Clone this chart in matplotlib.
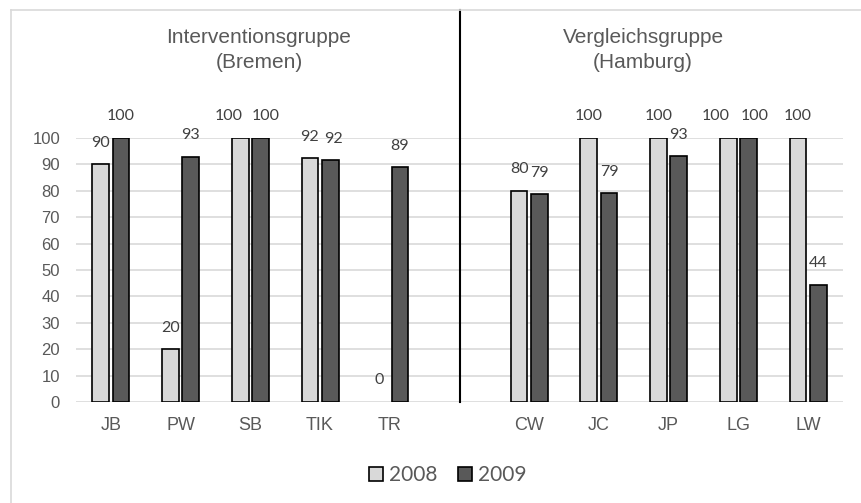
import matplotlib
matplotlib.use('Agg')

import numpy as np
import matplotlib.pyplot as plt
from matplotlib.patches import Patch
from matplotlib.lines import Line2D

# data (blank slot separates the two groups)
categories = ['JB', 'PW', 'SB', 'TIK', 'TR', '', 'CW', 'JC', 'JP', 'LG', 'LW']
values_2008 = [90, 20, 100, 92.3, 0, np.nan, 80, 100, 100, 100, 100]
values_2009 = [100, 92.9, 100, 91.6, 88.9, np.nan, 78.6, 79.0, 93.0, 100, 44.4]
series_names = ['2008', '2009']
group_titles = ['Interventionsgruppe\n(Bremen)', 'Vergleichsgruppe\n(Hamburg)']
yticks = list(range(0, 101, 10))

text_gray = '#595959'
grid_gray = '#D9D9D9'
colors = ['#D9D9D9', '#595959']

# horizontal nudges (pixels) for labels that Excel pushed apart
label_nudge = {(0, 2): -12, (1, 2): 5, (1, 3): 3, (0, 9): -13, (1, 9): 6}

W, H = 862, 503
fig = plt.figure(figsize=(W / 100, H / 100), dpi=100)

# axes placed in pixel terms
left, right, bottom, top = 76, 843, 402, 138
ax = fig.add_axes([left / W, 1 - bottom / H, (right - left) / W, (bottom - top) / H])

x = np.arange(len(categories))
bar_w = 0.24
offset = 0.145

for i, (vals, col) in enumerate(zip([values_2008, values_2009], colors)):
    xs = x + (i * 2 - 1) * offset
    lws = [0 if v == 0 else 1.2 for v in vals]
    ax.bar(xs, vals, width=bar_w, color=col, edgecolor='black', linewidth=lws, zorder=3)
    for j, (xi, v) in enumerate(zip(xs, vals)):
        if np.isnan(v):
            continue
        dx = label_nudge.get((i, j), 0) * 0.72
        ax.annotate(f'{v:.0f}', (xi, v), xytext=(dx, 15.5), textcoords='offset points',
                    ha='center', va='center', fontsize=11.5, color='#404040',
                    family='Lato', zorder=4)

ax.set_xlim(-0.5, len(categories) - 0.5)
ax.set_ylim(0, 100)
ax.set_yticks(yticks)
ax.set_xticks(x)
ax.set_xticklabels(categories, fontsize=13, color=text_gray, family='Liberation Sans')
for lab in ax.get_yticklabels():
    lab.set_fontsize(12)
    lab.set_color(text_gray)
    lab.set_family('Liberation Sans')
ax.tick_params(axis='both', length=0)
ax.tick_params(axis='x', pad=11)
ax.tick_params(axis='y', pad=11.5)
ax.yaxis.grid(True, color=grid_gray, linewidth=1.2, zorder=0)
ax.set_axisbelow(True)
for s in ax.spines.values():
    s.set_visible(False)

# separator between the two groups
ax.axvline(5, ymin=0, ymax=(bottom - 10) / (bottom - top), color='black',
           linewidth=1.5, clip_on=False, zorder=5)

# group titles
fig.text(259 / W, 1 - 50 / H, group_titles[0], ha='center', va='center',
         fontsize=15, color=text_gray, family='Liberation Sans', linespacing=1.45)
fig.text(643 / W, 1 - 50 / H, group_titles[1], ha='center', va='center',
         fontsize=15, color=text_gray, family='Liberation Sans', linespacing=1.45)

# outer chart border (left and top edges visible only)
fig.add_artist(Line2D([11 / W, 11 / W], [0, 1 - 10 / H], color=grid_gray, linewidth=1.2))
fig.add_artist(Line2D([11 / W, 1], [1 - 10 / H, 1 - 10 / H], color=grid_gray, linewidth=1.2))

handles = [Patch(facecolor=c, edgecolor='black', linewidth=1.2) for c in colors]
leg = fig.legend(handles, series_names, loc='center', bbox_to_anchor=(448 / W, 1 - 475 / H),
                 ncol=2, frameon=False, prop={'family': 'Lato', 'size': 15},
                 handlelength=0.65, handleheight=0.65, handletextpad=0.3, columnspacing=1.0)
for t in leg.get_texts():
    t.set_color(text_gray)

fig.savefig('out.png', dpi=100)
